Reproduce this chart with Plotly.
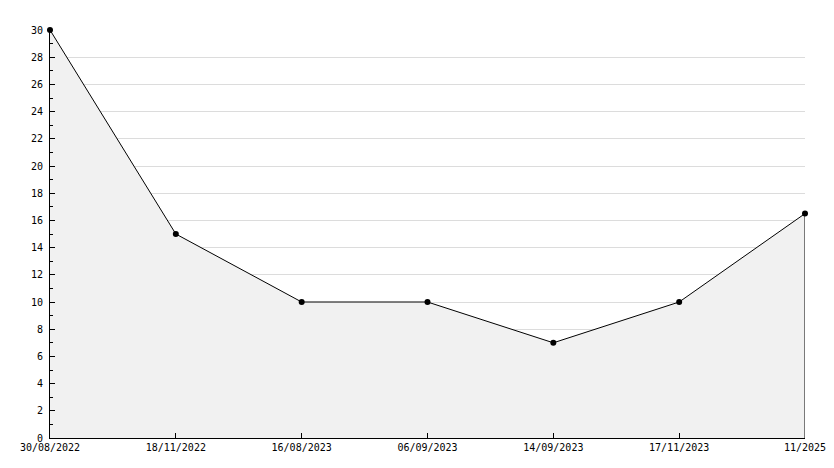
import plotly.graph_objects as go

dates = ["30/08/2022", "18/11/2022", "16/08/2023", "06/09/2023", "14/09/2023", "17/11/2023", "11/2025"]
values = [30, 15, 10, 10, 7, 10, 16.5]
y_ticks = list(range(0, 31, 2))

xs = list(range(len(dates)))

fig = go.Figure()
fig.add_trace(go.Scatter(
    x=xs, y=values, mode="lines+markers", fill="tozeroy",
    fillcolor="#f1f1f1", line=dict(color="black", width=1),
    marker=dict(color="black", size=6, symbol="circle"),
    hoverinfo="skip", showlegend=False, cliponaxis=False,
))
# closing edge of the area at the last point
fig.add_trace(go.Scatter(
    x=[xs[-1], xs[-1]], y=[0, values[-1]], mode="lines",
    line=dict(color="black", width=1), hoverinfo="skip", showlegend=False,
    cliponaxis=False,
))

font = dict(family="DejaVu Sans Mono", size=10, color="black")
fig.update_layout(
    width=834, height=468,
    margin=dict(l=42, r=37, t=22, b=38),
    paper_bgcolor="white", plot_bgcolor="white",
    font=font,
)
fig.update_xaxes(
    range=[0, len(dates) - 1], tickvals=xs, ticktext=dates, automargin=False,
    showgrid=False, zeroline=False, showline=True, linecolor="black", linewidth=1,
    ticks="inside", ticklen=5, tickcolor="black", tickfont=font, ticklabelstandoff=0,
)
fig.update_yaxes(
    range=[0, 30], tickvals=y_ticks, showgrid=True, gridcolor="#dcdcdc", gridwidth=1,
    zeroline=False, showline=True, linecolor="black", linewidth=1, automargin=False,
    ticks="inside", ticklen=5, tickcolor="black", tickfont=font, ticklabelstandoff=4,
    minor=dict(dtick=1, ticks="inside", ticklen=3, tickcolor="black", showgrid=False),
)
fig.write_html("out.html")
